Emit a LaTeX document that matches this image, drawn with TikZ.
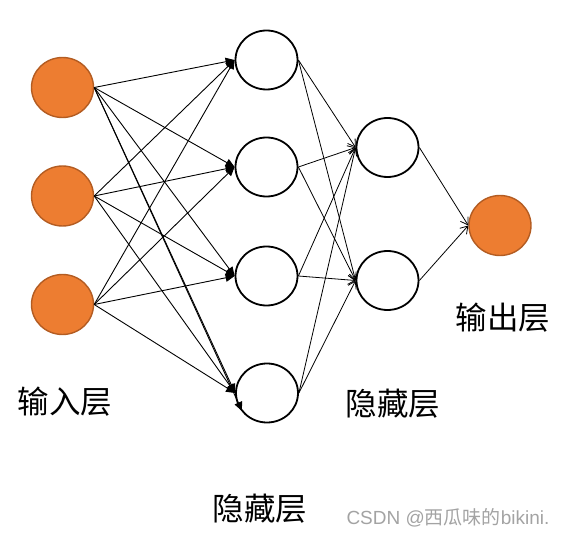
\documentclass[tikz,border=0pt]{standalone}
\usepackage{fontspec}
\newfontfamily\cjk{Noto Sans CJK SC}
\newfontfamily\lat{Liberation Sans}
\usetikzlibrary{shapes.geometric,arrows.meta}
\definecolor{orfill}{HTML}{ED7D31}
\definecolor{ordraw}{HTML}{B35C22}
\definecolor{wmgray}{HTML}{A3A3A3}
\begin{document}
\begin{tikzpicture}[x=1pt,y=-1pt,
  inode/.style={ellipse,draw=ordraw,fill=orfill,line width=1.4pt,minimum width=62pt,minimum height=60pt,inner sep=0pt},
  hnode/.style={ellipse,draw=black,fill=white,line width=1.8pt,minimum width=62pt,minimum height=59pt,inner sep=0pt},
  farrow/.style={line width=0.9pt,-{Triangle[length=9pt,width=8pt]}},
  oarrow/.style={line width=0.8pt,-{Straight Barb[length=7pt,width=9pt,line width=0.8pt]}},
  lbl/.style={font=\cjk\fontsize{31.5}{32}\selectfont,inner sep=0pt}
]
\useasboundingbox (0,0) rectangle (563,537);
% input layer
\node[inode] (i1) at (62.5,87.5) {};
\node[inode] (i2) at (62.5,196) {};
\node[inode] (i3) at (62.5,304.5) {};
% hidden layer 1
\node[hnode] (a1) at (266.5,60) {};
\node[hnode] (a2) at (266.5,167) {};
\node[hnode] (a3) at (266.5,276) {};
\node[hnode] (a4) at (267,393) {};
% hidden layer 2
\node[hnode] (b1) at (387.5,147.5) {};
\node[hnode] (b2) at (387.5,280.5) {};
% output
\node[inode] (o) at (500,225.5) {};
\coordinate (x4) at (242,411);
% connectors input -> hidden1
\foreach \i in {i1,i2,i3}{
  \foreach \a in {a1,a2,a3,a4}{
    \draw[farrow] (\i.east) -- (\a.west);
  }
}
\draw[farrow] (i1.east) -- (x4);
% hidden1 -> hidden2
\foreach \a in {a1,a2,a3,a4}{
  \foreach \b in {b1,b2}{
    \draw[oarrow] (\a.east) -- (\b.west);
  }
}
% hidden2 -> output
\draw[oarrow] (b1.east) -- (o.west);
\draw[oarrow] (b2.east) -- (o.west);
% labels
\node[lbl] (t1) at (65,402) {输入层};
\node[lbl] (t2) at (260,509) {隐藏层};
\node[lbl] (t3) at (393,404) {隐藏层};
\node[lbl] (t4) at (503,318) {输出层};
\node[font=\fontsize{19}{20}\selectfont,text=wmgray,inner sep=0pt] (wm) at (448,518) {\lat CSDN @\cjk 西瓜味的\lat bikini.};
\end{tikzpicture}
\end{document}
